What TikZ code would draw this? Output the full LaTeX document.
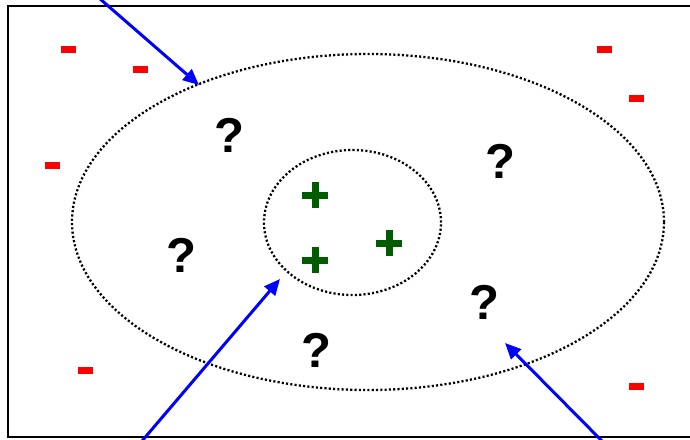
\documentclass[tikz,border=0pt]{standalone}
\usepackage{fontspec}
\setmainfont{Liberation Sans}
\definecolor{negred}{HTML}{FF0000}
\definecolor{posgreen}{HTML}{005C00}
\definecolor{ptrblue}{HTML}{0000FF}
\usetikzlibrary{shapes.geometric,arrows.meta}

\begin{document}
\begin{tikzpicture}[x=1pt, y=-1pt,
  minusmark/.style={rectangle, fill=negred, minimum width=15pt, minimum height=7pt, inner sep=0pt},
  plusmark/.style={rectangle, minimum size=26pt, inner sep=0pt,
              path picture={\fill[posgreen] (path picture bounding box.west) ++(0pt,-3.5pt) rectangle ++(26pt,7pt);
                            \fill[posgreen] (path picture bounding box.south) ++(-3.5pt,0pt) rectangle ++(7pt,26pt);}},
  unk/.style={inner sep=0pt, font=\fontsize{49}{49}\selectfont\bfseries},
  ring/.style={ellipse, draw, inner sep=0pt, line width=2.3pt, dash pattern=on 2.1pt off 2.2pt},
  ar/.style={-{Triangle[length=16pt, width=14pt]}, line width=3pt, color=ptrblue},
]
\clip (0,0) rectangle (690,439);
\draw[line width=2.2pt] (8,6) rectangle (700,437);

% the two regions
\node[ring, minimum width=592pt, minimum height=336pt] (outer) at (368,222) {};
\node[ring, minimum width=177pt, minimum height=145pt] (inner) at (352.5,222.5) {};

% labelled examples
\node[plusmark] (p1) at (315,195) {};
\node[plusmark] (p2) at (315,260) {};
\node[plusmark] (p3) at (389,243) {};

\node[minusmark] (m1) at (68.5,49.5) {};
\node[minusmark] (m2) at (140.5,69.5) {};
\node[minusmark] (m3) at (604.5,49.5) {};
\node[minusmark] (m4) at (636.5,98.5) {};
\node[minusmark] (m5) at (52.5,165) {};
\node[minusmark] (m6) at (85.5,370.5) {};
\node[minusmark] (m7) at (636.5,386) {};

% unlabelled examples
\node[unk] (q1) at (229,135) {?};
\node[unk] (q2) at (500,161) {?};
\node[unk] (q3) at (181,255) {?};
\node[unk] (q4) at (484,302) {?};
\node[unk] (q5) at (316,350) {?};

% pointers
\coordinate (a1) at (99,-2);
\coordinate (t1) at (199,85);
\coordinate (a2) at (142,441);
\coordinate (t2) at (280,279);
\coordinate (a3) at (602,441);
\coordinate (t3) at (505,343);
\draw[ar] (a1) -- (t1);
\draw[ar] (a2) -- (t2);
\draw[ar] (a3) -- (t3);
\end{tikzpicture}
\end{document}
